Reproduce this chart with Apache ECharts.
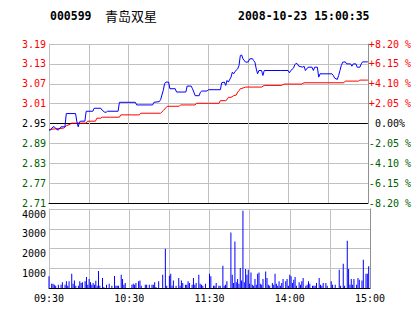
<!DOCTYPE html>
<html><head><meta charset="utf-8">
<script src="https://cdn.jsdelivr.net/npm/echarts@6/dist/echarts.min.js"></script>
<style>html,body{margin:0;padding:0;background:#fff}#c{width:414px;height:314px}</style>
</head><body><div id="c"></div>
<script>
const stockCode = '000599';
const stockName = '青岛双星';
const stamp = '2008-10-23 15:00:35';
const priceTicks = ['2.71','2.77','2.83','2.89','2.95','3.01','3.07','3.13','3.19'];
const pctTicks = ['-8.20 %','-6.15 %','-4.10 %','-2.05 %',' 0.00%','+2.05 %','+4.10 %','+6.15 %','+8.20 %'];
const timeTickMinutes = [0, 60, 120, 180, 240];
const timeTickLabels = ['09:30','10:30','11:30','14:00','15:00'];
const volMax = 4000;

const priceMinutes = [0,1,3,4,5,7,9,12,13,20,21,22,23,24,27,28,33,34,39,40,42,43,44,52,53,65,66,78,79,83,84,86,87,88,90,91,95,96,103,104,107,108,109,110,113,114,115,119,
  120,129,130,132,133,134,135,137,138,139,140,142,143,144,145,146,148,150,151,153,154,155,156,157,158,160,161,162,174,180,181,182,184,185,186,187,188,191,192,193,195,198,199,200,202,203,204,213,214,215,217,218,219,220,221,223,224,227,228,229,231,232,234,235,236,240];
const priceValues = [2.93,2.93,2.94,2.94,2.935,2.93,2.94,2.94,2.98,2.98,2.955,2.94,2.955,2.957,2.957,2.987,2.987,2.996,2.996,2.99,2.984,2.984,2.987,2.987,3.014,3.014,3.006,3.006,3.014,3.016,3.022,3.05,3.07,3.075,3.075,3.055,3.055,3.045,3.045,3.063,3.063,3.055,3.045,3.034,3.034,3.045,3.048,3.048,
  3.052,3.052,3.073,3.075,3.065,3.08,3.075,3.09,3.105,3.10,3.107,3.115,3.125,3.155,3.157,3.145,3.135,3.136,3.145,3.146,3.14,3.135,3.115,3.10,3.11,3.11,3.095,3.11,3.11,3.11,3.103,3.11,3.117,3.127,3.132,3.13,3.123,3.12,3.123,3.11,3.12,3.12,3.11,3.12,3.12,3.09,3.10,3.10,3.095,3.087,3.083,3.095,3.11,3.125,3.135,3.136,3.13,3.13,3.123,3.13,3.13,3.12,3.12,3.13,3.136,3.136];

const avgMinutes = [0,11,13,16,17,28,29,35,36,39,40,53,54,68,69,84,86,89,98,99,110,111,120,128,129,133,134,135,137,139,141,142,143,144,146,148,160,162,175,177,190,192,222,223,233,234,240];
const avgValues = [2.932,2.936,2.943,2.948,2.951,2.951,2.957,2.957,2.966,2.966,2.969,2.969,2.976,2.976,2.981,2.981,2.989,3.002,3.002,3.006,3.006,3.011,3.011,3.011,3.019,3.019,3.022,3.029,3.029,3.034,3.036,3.045,3.049,3.055,3.057,3.06,3.06,3.065,3.065,3.069,3.069,3.073,3.073,3.078,3.078,3.081,3.081];

const volMinutes = [0,2,3,4,5,7,9,10,12,13,14,15,17,18,19,20,22,23,24,25,27,28,29,30,31,32,33,34,35,36,37,38,40,41,43,45,47,49,50,51,52,54,55,56,57,62,63,64,65,67,68,69,72,73,75,77,78,79,80,82,85,87,88,90,91,92,93,95,97,98,99,100,102,103,104,105,107,108,109,110,112,113,
  114,115,117,120,121,123,124,125,127,128,130,131,132,133,136,137,138,139,140,141,142,143,144,145,146,147,148,149,150,151,152,153,154,155,156,157,158,159,160,162,163,164,165,167,168,169,170,171,172,173,174,175,177,178,179,180,181,182,183,184,185,187,188,189,190,192,193,194,195,197,198,199,200,202,203,204,205,207,208,211,212,214,217,218,220,221,223,224,225,226,227,228,230,231,232,234,235,237,238,239];
const volValues = [590,218,218,167,116,167,167,285,167,336,116,336,724,218,385,116,116,336,253,285,336,556,167,455,285,167,253,167,370,116,860,116,506,50,167,218,116,607,116,116,116,673,455,167,253,167,218,167,253,336,385,116,167,167,167,167,167,285,50,336,673,1990,116,623,724,116,385,116,506,116,385,253,167,167,336,253,167,506,167,253,673,218,
  167,116,218,724,590,116,116,253,116,116,1128,116,167,336,2815,673,253,2360,285,455,218,1011,385,3910,285,960,673,926,218,790,167,116,455,167,724,790,218,167,455,840,506,167,116,253,167,724,218,116,336,116,253,455,336,455,116,673,590,253,420,556,116,285,167,336,506,116,167,336,218,116,116,116,253,506,167,116,253,253,116,336,167,167,926,116,1230,116,2395,960,167,455,167,455,167,506,420,385,1432,724,724,1095];

const zip = (a, b) => a.map((m, i) => [m, b[i]]);
const MONO = 'DejaVu Sans Mono';
const GRAY = '#c0c0c0';
const GREEN = '#006000';

const chart = echarts.init(document.getElementById('c'), null, {renderer: 'svg'});
const priceColor = v => { const i = priceTicks.indexOf(v); return i < 4 ? GREEN : (i === 4 ? '#000' : '#f00'); };
const pctColor = v => { const i = pctTicks.indexOf(v); return i < 4 ? GREEN : (i === 4 ? '#000' : '#f00'); };

chart.setOption({
  animation: false,
  backgroundColor: '#fff',
  title: [
    {text: stockCode, left: 50, top: 10, padding: 0, textStyle: {fontFamily: MONO, fontSize: 11.5, fontWeight: 'bold', color: '#000'}},
    {text: stockName, left: 105, top: 9, padding: 0, textStyle: {fontFamily: 'Noto Sans CJK SC', fontSize: 13, fontWeight: 'normal', color: '#000'}},
    {text: stamp, left: 238, top: 10, padding: 0, textStyle: {fontFamily: MONO, fontSize: 11.5, fontWeight: 'bold', color: '#000'}}
  ],
  grid: [
    {left: 49, right: 44, top: 44, height: 159},
    {left: 49, right: 44, top: 209, height: 79}
  ],
  xAxis: [
    {gridIndex: 0, type: 'value', min: 0, max: 240, interval: 30,
     axisLine: {show: true, onZero: false, lineStyle: {color: '#000'}}, axisTick: {show: false}, axisLabel: {show: false},
     splitLine: {show: true, lineStyle: {color: GRAY, width: 1}}},
    {gridIndex: 1, type: 'value', min: 0, max: 240, interval: 30,
     axisLine: {show: true, onZero: false, lineStyle: {color: '#000'}}, axisTick: {show: false},
     axisLabel: {margin: 5, fontFamily: MONO, fontSize: 10, color: '#000',
       formatter: v => { const i = timeTickMinutes.indexOf(v); return i >= 0 ? timeTickLabels[i] : ''; }},
     splitLine: {show: true, lineStyle: {color: GRAY, width: 1}}}
  ],
  yAxis: [
    {gridIndex: 0, type: 'category', data: priceTicks, boundaryGap: false, position: 'left',
     axisLine: {show: true, onZero: false, lineStyle: {color: GRAY}}, axisTick: {show: false},
     axisLabel: {interval: 0, margin: 3, fontFamily: MONO, fontSize: 10, color: priceColor},
     splitLine: {show: true, interval: 0, lineStyle: {width: 1, color: ['#000', GRAY, GRAY, GRAY, '#000', GRAY, GRAY, GRAY, GRAY]}}},
    {gridIndex: 0, type: 'category', data: pctTicks, boundaryGap: false, position: 'right',
     axisLine: {show: true, onZero: false, lineStyle: {color: '#909090'}}, axisTick: {show: false},
     axisLabel: {interval: 0, margin: 1, fontFamily: MONO, fontSize: 10, color: pctColor},
     splitLine: {show: false}},
    {gridIndex: 0, type: 'value', min: Number(priceTicks[0]), max: Number(priceTicks[priceTicks.length - 1]), show: false, position: 'left', axisLine: {onZero: false}},
    {gridIndex: 1, type: 'value', min: 0, max: volMax, interval: 1000, position: 'left',
     axisLine: {show: true, onZero: false, lineStyle: {color: GRAY}}, axisTick: {show: false},
     axisLabel: {margin: 3, fontFamily: MONO, fontSize: 10, color: '#000', verticalAlign: 'top', padding: [0,0,0,0],
       formatter: v => v === 0 ? '' : String(v)},
     splitLine: {show: true, lineStyle: {color: GRAY, width: 1}}},
    {gridIndex: 1, type: 'value', min: 0, max: volMax, interval: 1000, position: 'right',
     axisLine: {show: true, onZero: false, lineStyle: {color: '#909090'}}, axisTick: {show: false},
     axisLabel: {show: false}, splitLine: {show: false}}
  ],
  series: [
    {type: 'line', xAxisIndex: 0, yAxisIndex: 2, data: zip(avgMinutes, avgValues), showSymbol: false, symbol: 'none',
     lineStyle: {color: '#ff0000', width: 1}, z: 3},
    {type: 'line', xAxisIndex: 0, yAxisIndex: 2, data: zip(priceMinutes, priceValues), showSymbol: false, symbol: 'none',
     lineStyle: {color: '#0000ff', width: 1}, z: 4},
    {type: 'bar', xAxisIndex: 1, yAxisIndex: 3, data: zip(volMinutes, volValues), barWidth: 1,
     itemStyle: {color: '#0000ff'}}
  ]
});
</script>
</body></html>
